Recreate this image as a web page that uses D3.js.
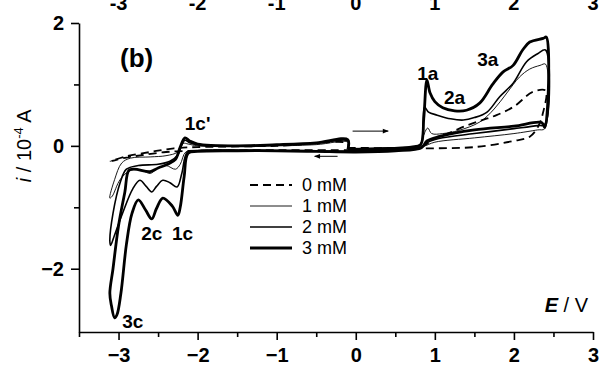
<!DOCTYPE html>
<html>
<head>
<meta charset="utf-8">
<script src="https://cdn.jsdelivr.net/npm/d3@7"></script>
<style>
  body { margin: 0; background: #fff; }
  text { font-family: "Liberation Sans", Arial, sans-serif; }
</style>
</head>
<body>
<div id="chart"></div>
<script>
// cyclic voltammograms, E in V, i in 1e-4 A
const blank0 = [
  [-0.1,-0.03],[0.5,-0.04],[1.0,-0.04],[1.5,-0.02],[2.0,0.08],[2.2,0.15],[2.3,0.3],[2.37,0.55],[2.4,0.9],
  [2.24,0.88],[2.0,0.64],[1.78,0.5],[1.6,0.42],[1.4,0.33],[1.2,0.22],[1.0,0.12],[0.85,0.0],[0.5,-0.06],[0,-0.07],
  [-1.0,-0.07],[-2.0,-0.08],[-2.4,-0.1],[-2.7,-0.15],[-2.9,-0.19],[-3.1,-0.25],
  [-2.9,-0.17],[-2.6,-0.1],[-2.3,-0.04],[-2.0,-0.02],[-1.0,0.0],[-0.1,0.04],[-0.1,-0.03]
];
const conc1 = [
  [-0.1,-0.04],[0.5,-0.03],[0.8,0.0],[0.85,0.15],[0.91,0.29],[0.96,0.2],[1.1,0.2],[1.3,0.25],[1.57,0.39],
  [1.75,0.6],[1.91,0.86],[2.07,1.12],[2.2,1.25],[2.33,1.31],[2.4,1.33],
  [2.39,0.28],[2.3,0.26],[2.0,0.2],[1.5,0.13],[1.0,0.06],[0.85,-0.01],[0.5,-0.06],[0,-0.08],[-1.0,-0.07],
  [-2.0,-0.07],[-2.15,-0.1],[-2.22,-0.3],[-2.28,-0.38],[-2.4,-0.32],[-2.5,-0.36],[-2.6,-0.45],[-2.7,-0.4],
  [-2.85,-0.4],[-2.98,-0.55],[-3.08,-0.82],[-3.11,-0.85],
  [-3.05,-0.55],[-2.96,-0.28],[-2.85,-0.2],[-2.6,-0.18],[-2.4,-0.16],[-2.25,-0.1],[-2.18,0.04],[-2.12,0.03],
  [-2.0,0.0],[-1.0,0.0],[-0.5,0.02],[-0.1,0.06],[-0.1,-0.04]
];
const conc2 = [
  [-0.1,-0.05],[0.3,-0.04],[0.7,-0.02],[0.82,0.02],[0.85,0.3],[0.87,0.63],[0.92,0.55],[1.03,0.5],[1.2,0.44],
  [1.36,0.42],[1.5,0.46],[1.66,0.55],[1.82,0.8],[1.99,1.02],[2.16,1.37],[2.3,1.5],[2.4,1.56],
  [2.39,0.35],[2.3,0.33],[2.0,0.28],[1.5,0.2],[1.05,0.12],[0.9,0.05],[0.83,-0.03],[0.5,-0.07],[0,-0.09],
  [-1.0,-0.08],[-2.0,-0.08],[-2.13,-0.1],[-2.2,-0.45],[-2.26,-0.67],[-2.35,-0.6],[-2.44,-0.56],[-2.52,-0.66],
  [-2.58,-0.75],[-2.65,-0.66],[-2.73,-0.56],[-2.82,-0.7],[-2.95,-1.1],[-3.05,-1.45],[-3.1,-1.62],[-3.11,-1.55],
  [-3.07,-1.1],[-2.98,-0.6],[-2.9,-0.38],[-2.75,-0.32],[-2.5,-0.3],[-2.35,-0.25],[-2.25,-0.15],[-2.2,0.02],
  [-2.16,0.09],[-2.1,0.05],[-2.0,0.02],[-1.0,0.01],[-0.5,0.04],[-0.1,0.08],[-0.1,-0.05]
];
const conc3 = [
  [-0.1,-0.06],[0.3,-0.05],[0.7,-0.02],[0.82,0.02],[0.86,0.45],[0.9,1.07],[0.94,0.86],[1.0,0.72],[1.1,0.62],
  [1.25,0.57],[1.4,0.58],[1.57,0.7],[1.73,1.0],[1.86,1.2],[1.99,1.31],[2.11,1.56],[2.2,1.69],[2.37,1.75],[2.41,1.77],
  [2.39,0.3],[2.35,0.38],[2.0,0.32],[1.5,0.26],[1.05,0.15],[0.9,0.08],[0.83,-0.03],[0.5,-0.08],[0,-0.1],
  [-0.5,-0.09],[-1.0,-0.08],[-1.5,-0.08],[-2.0,-0.09],[-2.12,-0.12],[-2.17,-0.5],[-2.22,-1.0],[-2.25,-1.13],
  [-2.32,-0.98],[-2.44,-0.85],[-2.52,-1.02],[-2.58,-1.19],[-2.66,-1.04],[-2.75,-0.88],[-2.83,-1.1],[-2.9,-1.6],
  [-2.97,-2.4],[-3.02,-2.75],[-3.05,-2.8],[-3.09,-2.6],[-3.11,-2.4],
  [-3.07,-2.0],[-3.0,-1.3],[-2.92,-0.75],[-2.87,-0.4],[-2.8,-0.38],[-2.6,-0.42],[-2.5,-0.36],[-2.38,-0.3],
  [-2.28,-0.22],[-2.22,-0.02],[-2.16,0.13],[-2.1,0.08],[-2.0,0.03],[-1.5,0.0],[-1.0,0.02],[-0.5,0.05],[-0.1,0.1],
  [-0.1,-0.06]
];

const seriesData = [blank0, conc1, conc2, conc3];
const legendLabels = ["0 mM", "1 mM", "2 mM", "3 mM"];
const xMajorTicks = [-3, -2, -1, 0, 1, 2, 3];
const xMinorTicks = [-3.5, -2.5, -1.5, -0.5, 0.5, 1.5, 2.5];
const yMajorTicks = [2, 0, -2];
const yMinorTicks = [1, -1];
const peakLabels = [
  {t: "1c'", E: -2.0, i: 0.36},
  {t: "1c", E: -2.19, i: -1.42},
  {t: "2c", E: -2.58, i: -1.42},
  {t: "3c", E: -2.82, i: -2.86},
  {t: "1a", E: 0.91, i: 1.18},
  {t: "2a", E: 1.25, i: 0.79},
  {t: "3a", E: 1.67, i: 1.41}
];
// scan direction arrows [E start, E end, i]
const arrows = [[-0.04, 0.41, 0.24], [-0.23, -0.52, -0.17]];

const styles = [
  {w: 1.8, dash: "8,5"},
  {w: 0.9, dash: null},
  {w: 1.6, dash: null},
  {w: 2.8, dash: null}
];

const W = 600, H = 369;
const svg = d3.select("#chart").append("svg")
    .attr("width", W)
    .attr("height", H);

const x = d3.scaleLinear().domain([-3.5, 3]).range([79, 593]);
const y = d3.scaleLinear().domain([-3.03, 2]).range([332, 23]);

// curves
const line = d3.line()
    .x(d => x(d[0]))
    .y(d => y(d[1]))
    .curve(d3.curveCatmullRom.alpha(0.5));

svg.selectAll("path.cv")
    .data(seriesData)
    .join("path")
    .attr("class", "cv")
    .attr("d", line)
    .attr("fill", "none")
    .attr("stroke", "#000")
    .attr("stroke-width", (d, k) => styles[k].w)
    .attr("stroke-dasharray", (d, k) => styles[k].dash)
    .attr("stroke-linejoin", "round");

// bottom axis
const xAxis = svg.append("g")
    .attr("transform", `translate(0,${y(-3.03)})`)
    .call(d3.axisBottom(x).tickValues(xMajorTicks).tickSize(8).tickSizeOuter(0).tickFormat(d3.format("d")));
svg.append("g")
    .attr("transform", `translate(0,${y(-3.03)})`)
    .call(d3.axisBottom(x).tickValues(xMinorTicks).tickSize(5).tickSizeOuter(0).tickFormat(""))
    .select(".domain").remove();
xAxis.selectAll("text")
    .attr("dy", "0.35em")
    .attr("y", 23);

// left axis
const yAxis = svg.append("g")
    .attr("transform", `translate(${x(-3.5)},0)`)
    .call(d3.axisLeft(y).tickValues(yMajorTicks).tickSize(8).tickSizeOuter(0).tickFormat(d3.format("d")));
svg.append("g")
    .attr("transform", `translate(${x(-3.5)},0)`)
    .call(d3.axisLeft(y).tickValues(yMinorTicks).tickSize(5).tickSizeOuter(0).tickFormat(""))
    .select(".domain").remove();
yAxis.selectAll("text").attr("x", -15);

svg.selectAll(".domain, .tick line")
    .attr("stroke", "#000")
    .attr("stroke-width", 1.6);
svg.selectAll(".tick text")
    .attr("fill", "#000")
    .style("font-size", "20px")
    .style("font-weight", "bold")
    .style("font-family", "'Liberation Sans', Arial, sans-serif");

// tick labels of the panel above, cut by the top edge
svg.append("g").selectAll("text")
    .data(xMajorTicks)
    .join("text")
    .attr("x", d => x(d))
    .attr("y", 10)
    .attr("text-anchor", "middle")
    .style("font-size", "20px")
    .style("font-weight", "bold")
    .text(d => d);

// axis titles
const yt = svg.append("text")
    .attr("transform", `translate(31,${y(0)}) rotate(-90)`)
    .attr("text-anchor", "middle")
    .style("font-size", "20px");
yt.append("tspan").style("font-style", "italic").text("i");
yt.append("tspan").text(" / 10");
yt.append("tspan").attr("dy", -8).style("font-size", "13px").text("-4");
yt.append("tspan").attr("dy", 8).text(" A");

const xt = svg.append("text")
    .attr("x", 588)
    .attr("y", 312)
    .attr("text-anchor", "end")
    .style("font-size", "20px");
xt.append("tspan").style("font-style", "italic").style("font-weight", "bold").text("E");
xt.append("tspan").text(" / V");

// panel letter
svg.append("text")
    .attr("x", 120)
    .attr("y", 67)
    .style("font-size", "26px")
    .style("font-weight", "bold")
    .text("(b)");

// peak labels
svg.append("g").selectAll("text")
    .data(peakLabels)
    .join("text")
    .attr("x", d => x(d.E))
    .attr("y", d => y(d.i))
    .attr("dy", "0.35em")
    .attr("text-anchor", "middle")
    .style("font-size", "19px")
    .style("font-weight", "bold")
    .text(d => d.t);

// arrows
svg.append("defs").append("marker")
    .attr("id", "head")
    .attr("viewBox", "0 0 10 10")
    .attr("refX", 9).attr("refY", 5)
    .attr("markerWidth", 10).attr("markerHeight", 6)
    .attr("markerUnits", "userSpaceOnUse")
    .attr("orient", "auto")
    .append("path")
    .attr("d", "M0,1 L10,5 L0,9 Z")
    .attr("fill", "#000");

svg.append("g").selectAll("line")
    .data(arrows)
    .join("line")
    .attr("x1", d => x(d[0]))
    .attr("x2", d => x(d[1]))
    .attr("y1", d => y(d[2]))
    .attr("y2", d => y(d[2]))
    .attr("stroke", "#000")
    .attr("stroke-width", 1)
    .attr("marker-end", "url(#head)");

// legend
const legend = svg.append("g").attr("transform", "translate(250,185)");
const rows = legend.selectAll("g")
    .data(legendLabels)
    .join("g")
    .attr("transform", (d, k) => `translate(0,${k * 21})`);
rows.append("line")
    .attr("x1", 0).attr("x2", 42)
    .attr("stroke", "#000")
    .attr("stroke-width", (d, k) => styles[k].w)
    .attr("stroke-dasharray", (d, k) => styles[k].dash);
rows.append("text")
    .attr("x", 52)
    .attr("dy", "0.35em")
    .style("font-size", "18px")
    .text(d => d);
</script>
</body>
</html>
